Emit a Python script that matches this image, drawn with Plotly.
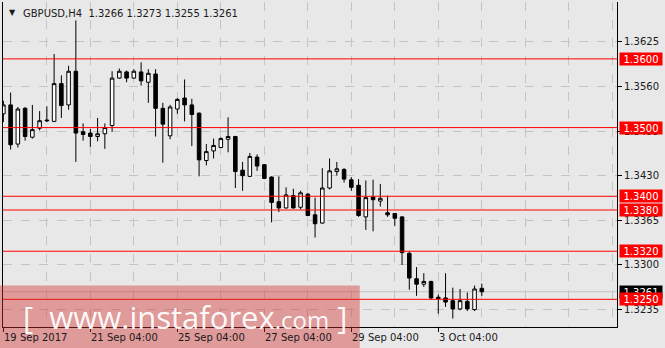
import plotly.graph_objects as go

# ---- data (H4 bars, index 0 = 19 Sep 2017 04:00) ----
opens = [1.3520, 1.3533, 1.3476, 1.3528, 1.3486, 1.3499, 1.3511, 1.3509, 1.3564, 1.3533,
         1.3582, 1.3494, 1.3492, 1.3487, 1.3491, 1.3503, 1.3572, 1.3581, 1.3572, 1.3581,
         1.3566, 1.3578, 1.3528, 1.3488, 1.3527, 1.3543, 1.3533, 1.3521, 1.3452, 1.3466,
         1.3471, 1.3483, 1.3487, 1.3438, 1.3429, 1.3457, 1.3446, 1.3428, 1.3392, 1.3383,
         1.3401, 1.3384, 1.3403, 1.3373, 1.3361, 1.3412, 1.3436, 1.3439, 1.3424, 1.3416,
         1.3370, 1.3399, 1.3393, 1.3376, 1.3375, 1.3370, 1.3317, 1.3280, 1.3272, 1.3276,
         1.3253, 1.3252, 1.3248, 1.3236, 1.3247, 1.3235, 1.3266]
highs = [1.3539, 1.3551, 1.3530, 1.3530, 1.3533, 1.3524, 1.3531, 1.3607, 1.3576, 1.3590,
         1.3656, 1.3506, 1.3498, 1.3514, 1.3506, 1.3582, 1.3586, 1.3583, 1.3585, 1.3595,
         1.3585, 1.3585, 1.3536, 1.3533, 1.3543, 1.3570, 1.3542, 1.3522, 1.3476, 1.3484,
         1.3486, 1.3515, 1.3488, 1.3450, 1.3463, 1.3461, 1.3447, 1.3429, 1.3429, 1.3413,
         1.3411, 1.3408, 1.3405, 1.3398, 1.3441, 1.3455, 1.3450, 1.3441, 1.3428, 1.3425,
         1.3423, 1.3424, 1.3418, 1.3401, 1.3375, 1.3371, 1.3320, 1.3297, 1.3288, 1.3277,
         1.3257, 1.3288, 1.3267, 1.3265, 1.3260, 1.3270, 1.3273]
lows = [1.3508, 1.3468, 1.3471, 1.3481, 1.3484, 1.3496, 1.3508, 1.3508, 1.3514, 1.3526,
        1.3450, 1.3481, 1.3472, 1.3480, 1.3469, 1.3494, 1.3571, 1.3566, 1.3571, 1.3561,
        1.3536, 1.3487, 1.3449, 1.3483, 1.3520, 1.3509, 1.3473, 1.3429, 1.3445, 1.3455,
        1.3470, 1.3464, 1.3412, 1.3408, 1.3428, 1.3437, 1.3425, 1.3362, 1.3377, 1.3382,
        1.3382, 1.3381, 1.3371, 1.3340, 1.3360, 1.3410, 1.3430, 1.3420, 1.3408, 1.3370,
        1.3351, 1.3349, 1.3385, 1.3370, 1.3357, 1.3300, 1.3264, 1.3255, 1.3268, 1.3250,
        1.3229, 1.3239, 1.3222, 1.3234, 1.3233, 1.3233, 1.3255]
closes = [1.3533, 1.3475, 1.3527, 1.3487, 1.3497, 1.3510, 1.3510, 1.3564, 1.3532, 1.3582,
          1.3492, 1.3490, 1.3487, 1.3491, 1.3500, 1.3572, 1.3582, 1.3572, 1.3582, 1.3568,
          1.3579, 1.3528, 1.3505, 1.3530, 1.3541, 1.3533, 1.3519, 1.3453, 1.3465, 1.3474,
          1.3484, 1.3487, 1.3436, 1.3430, 1.3458, 1.3444, 1.3426, 1.3391, 1.3383, 1.3402,
          1.3383, 1.3405, 1.3372, 1.3360, 1.3412, 1.3437, 1.3440, 1.3425, 1.3413, 1.3372,
          1.3398, 1.3395, 1.3397, 1.3373, 1.3368, 1.3318, 1.3281, 1.3272, 1.3276, 1.3252,
          1.3251, 1.3246, 1.3236, 1.3248, 1.3236, 1.3265, 1.3261]
bar_index = list(range(len(opens)))

date_tick_pos = [0, 12, 24, 36, 48, 60]
date_tick_text = ["19 Sep 2017", "21 Sep 04:00", "25 Sep 04:00", "27 Sep 04:00",
                  "29 Sep 04:00", "3 Oct 04:00"]
day_grid_pos = [6, 18, 30, 42, 54, 66, 72, 78, 84]

price_ticks = [1.3625, 1.3560, 1.3495, 1.3430, 1.3365, 1.3300, 1.3235]
level_lines = [1.3600, 1.3500, 1.3400, 1.3380, 1.3320, 1.3250]
level_text = ["1.3600", "1.3500", "1.3400", "1.3380", "1.3320", "1.3250"]
bid_price = 1.3261
bid_text = "1.3261"
title_text = "GBPUSD,H4  1.3266 1.3273 1.3255 1.3261"

FONT = "DejaVu Sans"
BG = "#e8e8e8"

fig = go.Figure()
fig.add_trace(go.Candlestick(
    x=bar_index, open=opens, high=highs, low=lows, close=closes,
    increasing=dict(fillcolor="white", line=dict(color="black", width=1)),
    decreasing=dict(fillcolor="black", line=dict(color="black", width=1)),
    whiskerwidth=0, showlegend=False, hoverinfo="skip"))

shapes = []
# bid line
shapes.append(dict(type="line", xref="paper", x0=0, x1=1, yref="y", y0=bid_price, y1=bid_price,
                   line=dict(color="#c0c0c0", width=1), layer="below"))
for lv in level_lines:
    shapes.append(dict(type="line", xref="paper", x0=0, x1=1, yref="y", y0=lv, y1=lv,
                       line=dict(color="#ff0000", width=1), layer="above"))

annotations = []
# bid label first so the red level labels sit on top of it
annotations.append(dict(xref="paper", x=1, xanchor="left", xshift=2, yref="y", y=bid_price,
                        yanchor="middle", text=bid_text, showarrow=False, bgcolor="#000000",
                        font=dict(family=FONT, size=10, color="white"),
                        width=40, height=10, borderpad=1, align="center"))
for lv, t in zip(level_lines, level_text):
    annotations.append(dict(xref="paper", x=1, xanchor="left", xshift=2, yref="y", y=lv,
                            yanchor="middle", text=t, showarrow=False, bgcolor="#ff0000",
                            font=dict(family=FONT, size=10, color="white"),
                            width=40, height=10, borderpad=1, align="center"))
for p, t in zip(date_tick_pos, date_tick_text):
    annotations.append(dict(xref="x", x=p, xanchor="left", xshift=-1, yref="paper", y=0,
                            yanchor="middle", yshift=-10, text=t, showarrow=False,
                            font=dict(family=FONT, size=10, color="#1a1a1a")))
annotations.append(dict(xref="paper", x=0, xanchor="left", xshift=4, yref="paper", y=1,
                        yanchor="top", yshift=-4, text="▼", showarrow=False,
                        font=dict(family=FONT, size=8, color="#1a1a1a")))
annotations.append(dict(xref="paper", x=0, xanchor="left", xshift=18, yref="paper", y=1,
                        yanchor="top", yshift=-4, text=title_text, showarrow=False,
                        font=dict(family=FONT, size=10, color="#1a1a1a")))

# watermark
shapes.append(dict(type="rect", xref="paper", yref="paper", x0=-0.01, x1=0.581,
                   y0=-0.07, y1=0.128, fillcolor="rgba(210,45,45,0.42)",
                   line=dict(width=0), layer="above"))
annotations.append(dict(xref="paper", yref="paper", x=0.03, y=0.03, xanchor="left",
                        yanchor="middle",
                        text="[  www.instaforex<span style='font-size:24px'>.com</span> ]",
                        showarrow=False,
                        font=dict(family="Open Sans", size=31, color="rgba(255,255,255,0.95)")))

fig.update_layout(
    width=665, height=348,
    margin=dict(l=3, r=48, t=2, b=21),
    paper_bgcolor=BG, plot_bgcolor=BG,
    shapes=shapes, annotations=annotations,
    xaxis=dict(range=[-0.05, 84.65], rangeslider=dict(visible=False),
               tickmode="array", tickvals=date_tick_pos, ticktext=[""] * len(date_tick_pos),
               showticklabels=False, ticks="outside", ticklen=4, tickcolor="black",
               showgrid=True, gridcolor="#c4c4c4", griddash="dash", gridwidth=1,
               minor=dict(tickmode="array", tickvals=day_grid_pos, showgrid=True,
                          gridcolor="#c4c4c4", griddash="dash", ticks=""),
               showline=True, linecolor="black", linewidth=1, zeroline=False),
    yaxis=dict(range=[1.32097, 1.36828], side="right",
               tickmode="array", tickvals=price_ticks,
               ticktext=[f"{v:.4f}" for v in price_ticks],
               ticks="outside", ticklen=4, tickcolor="black",
               tickfont=dict(family=FONT, size=10, color="#1a1a1a"),
               showgrid=True, gridcolor="#c4c4c4", griddash="dash", gridwidth=1,
               showline=True, linecolor="black", linewidth=1, mirror=True, zeroline=False),
)

fig.write_html("out.html")
